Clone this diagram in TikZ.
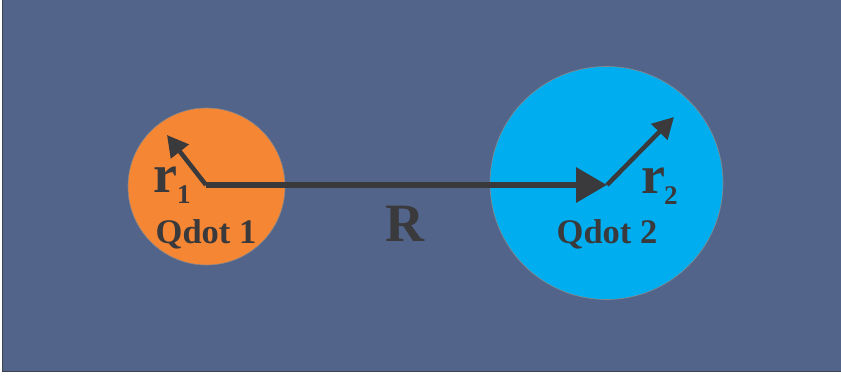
\documentclass[tikz,border=0pt]{standalone}
\usepackage{fontspec}
\setmainfont{Liberation Serif}
\usetikzlibrary{arrows.meta}
\definecolor{bg}{RGB}{82,100,138}
\definecolor{edge}{RGB}{60,66,80}
\definecolor{dotA}{RGB}{245,134,52}
\definecolor{dotB}{RGB}{0,174,239}
\definecolor{ink}{RGB}{58,57,60}
\begin{document}
\begin{tikzpicture}[x=1pt,y=-1pt,
  dot/.style={circle, inner sep=0pt, draw=ink!60, line width=0.6pt},
  lbl/.style={inner sep=0pt, anchor=base west, text=ink, font=\bfseries},
  bigarrow/.style={draw=ink, line width=6.5pt, -{Triangle[length=31pt,width=34pt]}},
  smallarrow/.style={draw=ink, line width=4.5pt, -{Triangle[length=21pt,width=22pt]}}]
\useasboundingbox (0,0) rectangle (841,381);
\fill[white] (0,0) rectangle (841,381);
\fill[bg] (2,0) rectangle (841,372);
\draw[edge, line width=1.2pt] (2.6,0) -- (2.6,371.4) -- (841,371.4);
\node[dot, fill=dotA, minimum size=157pt] (q1) at (206.5,186.5) {};
\node[dot, fill=dotB, minimum size=233pt] (q2) at (606.5,183) {};
\coordinate (c1) at (206,185);
\coordinate (c2) at (607,185);
\coordinate (t1) at (167,135);
\coordinate (t2) at (674,117);
\draw[bigarrow] (c1) -- (c2);
\draw[smallarrow] (c1) -- (t1);
\draw[smallarrow] (c2) -- (t2);
\node[lbl, font=\bfseries\fontsize{54}{54}\selectfont] (r1) at (153,192) {r};
\node[lbl, font=\bfseries\fontsize{27}{27}\selectfont] (s1) at (177,203) {1};
\node[lbl, font=\bfseries\fontsize{54}{54}\selectfont] (r2) at (641,193) {r};
\node[lbl, font=\bfseries\fontsize{27}{27}\selectfont] (s2) at (664,204) {2};
\node[lbl, anchor=base, font=\bfseries\fontsize{34.5}{34.5}\selectfont] (n1) at (206,243) {Qdot 1};
\node[lbl, anchor=base, font=\bfseries\fontsize{34.5}{34.5}\selectfont] (n2) at (607,243) {Qdot 2};
\node[lbl, anchor=base, font=\bfseries\fontsize{54}{54}\selectfont] (R) at (405,241) {R};
\end{tikzpicture}
\end{document}
